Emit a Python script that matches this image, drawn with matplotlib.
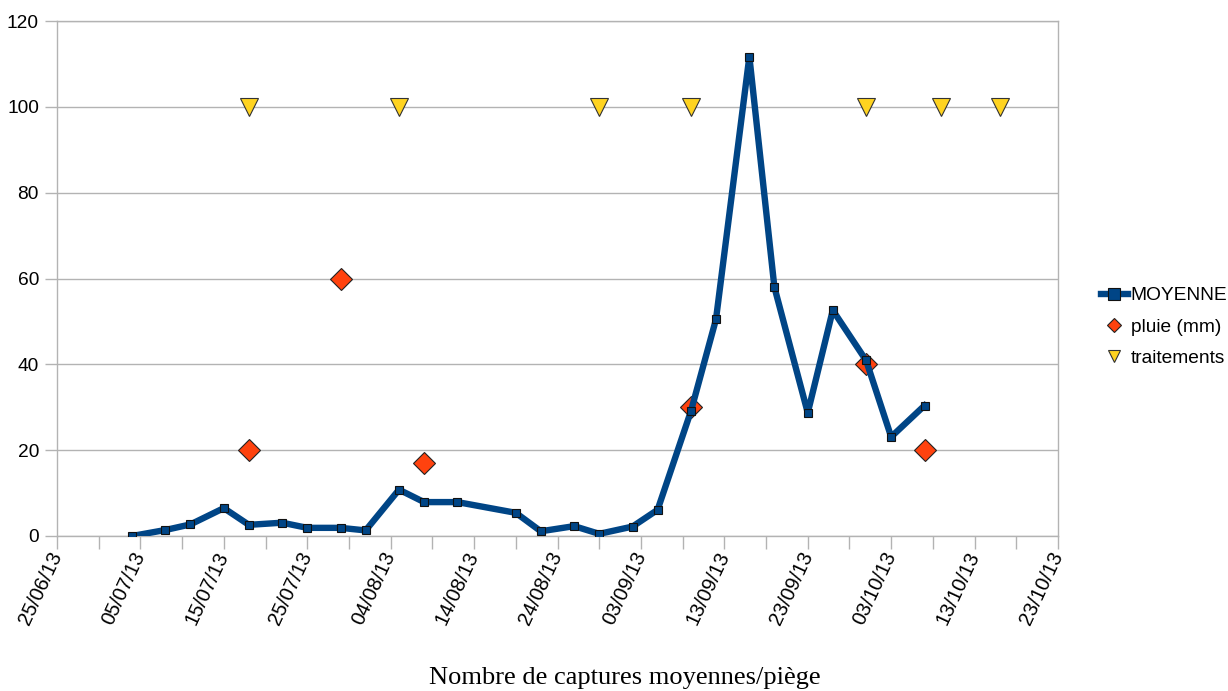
import datetime as dt
import matplotlib
matplotlib.use("Agg")
import matplotlib.pyplot as plt
import matplotlib.dates as mdates
from matplotlib.lines import Line2D
from matplotlib.ticker import FixedLocator, NullFormatter

# Average catches per trap
moy_dates = ["04/07/13", "08/07/13", "11/07/13", "15/07/13", "18/07/13", "22/07/13",
             "25/07/13", "29/07/13", "01/08/13", "05/08/13", "08/08/13", "12/08/13",
             "19/08/13", "22/08/13", "26/08/13", "29/08/13", "02/09/13", "05/09/13",
             "09/09/13", "12/09/13", "16/09/13", "19/09/13", "23/09/13", "26/09/13",
             "30/09/13", "03/10/13", "07/10/13"]
moy_values = [0, 1.4, 2.7, 6.5, 2.6, 3.1,
              1.9, 1.9, 1.3, 10.8, 7.9, 7.9,
              5.4, 1.1, 2.3, 0.5, 2.2, 6.1,
              29.1, 50.5, 111.7, 58.0, 28.7, 52.6,
              40.9, 23.1, 30.4]

# Rainfall (mm)
pluie_dates = ["18/07/13", "29/07/13", "08/08/13", "09/09/13", "30/09/13", "07/10/13"]
pluie_values = [20, 60, 17, 30, 40, 20]

# Treatment dates
trait_dates = ["18/07/13", "05/08/13", "29/08/13", "09/09/13", "30/09/13", "09/10/13", "16/10/13"]
trait_values = [100, 100, 100, 100, 100, 100, 100]

x_start, x_end = "25/06/13", "23/10/13"
y_ticks = [0, 20, 40, 60, 80, 100, 120]

BLUE, RED, YELLOW = "#004586", "#ff420e", "#ffd320"


def to_date(s):
    return dt.datetime.strptime(s, "%d/%m/%y")


plt.rcParams["font.family"] = ["Liberation Sans", "DejaVu Sans"]

fig = plt.figure(figsize=(12.28, 6.91), dpi=100)
ax = fig.add_axes([57 / 1228, 1 - 536 / 691, (1058 - 57) / 1228, (536 - 21) / 691])

grid_col = "#b3b3b3"
ax.set_axisbelow(True)
ax.yaxis.grid(True, color=grid_col, linewidth=1.0)

ax.plot([to_date(d) for d in moy_dates], moy_values, color=BLUE, linewidth=4.6,
        marker="s", markersize=6, markerfacecolor=BLUE, markeredgecolor="#111111",
        markeredgewidth=0.8, zorder=3, solid_joinstyle="round")
ax.plot([to_date(d) for d in pluie_dates], pluie_values, linestyle="none", marker="D",
        markersize=11.5, markerfacecolor=RED, markeredgecolor="#222222",
        markeredgewidth=0.8, zorder=2)
ax.plot([to_date(d) for d in trait_dates], trait_values, linestyle="none", marker="v",
        markersize=13, markerfacecolor=YELLOW, markeredgecolor="#333333",
        markeredgewidth=0.8, zorder=4)

d0, d1 = to_date(x_start), to_date(x_end)
ax.set_xlim(d0, d1)
ax.set_ylim(0, 120)

major = [d0 + dt.timedelta(days=10 * i) for i in range(13)]
minor = [d0 + dt.timedelta(days=5 + 10 * i) for i in range(12)]
ax.xaxis.set_major_locator(FixedLocator(mdates.date2num(major)))
ax.xaxis.set_minor_locator(FixedLocator(mdates.date2num(minor)))
ax.xaxis.set_major_formatter(mdates.DateFormatter("%d/%m/%y"))
ax.xaxis.set_minor_formatter(NullFormatter())
ax.set_yticks(y_ticks)

for side in ["left", "right", "top", "bottom"]:
    ax.spines[side].set_color(grid_col)
    ax.spines[side].set_linewidth(1.0)

ax.tick_params(axis="both", which="both", color=grid_col, length=9, width=1.0,
               direction="out", labelcolor="black")
ax.tick_params(axis="y", labelsize=13.8, pad=4)
ax.tick_params(axis="x", labelsize=14.5, pad=3)
for lbl in ax.get_xticklabels():
    lbl.set_rotation(65)
    lbl.set_ha("right")
    lbl.set_va("center")
    lbl.set_rotation_mode("anchor")

handles = [
    Line2D([], [], color=BLUE, linewidth=4.6, marker="s", markersize=8,
           markerfacecolor=BLUE, markeredgecolor="#111111", markeredgewidth=0.8),
    Line2D([], [], linestyle="none", marker="D", markersize=7,
           markerfacecolor=RED, markeredgecolor="#222222", markeredgewidth=0.8),
    Line2D([], [], linestyle="none", marker="v", markersize=9,
           markerfacecolor=YELLOW, markeredgecolor="#333333", markeredgewidth=0.8),
]
labels = ["MOYENNE", "pluie (mm)", "traitements"]
fig.legend(handles, labels, loc="center left", bbox_to_anchor=(1101 / 1228, 1 - 327 / 691),
           frameon=False, fontsize=13.8, handlelength=1.4, handletextpad=0.15,
           labelspacing=0.72, borderaxespad=0, borderpad=0)

fig.text((427 + 822) / 2 / 1228, 1 - 678 / 691, "Nombre de captures moyennes/pi\u00e8ge",
         ha="center", va="center", fontsize=19,
         family=["Liberation Serif", "DejaVu Serif"])

fig.savefig("out.png", dpi=100, facecolor="white")
